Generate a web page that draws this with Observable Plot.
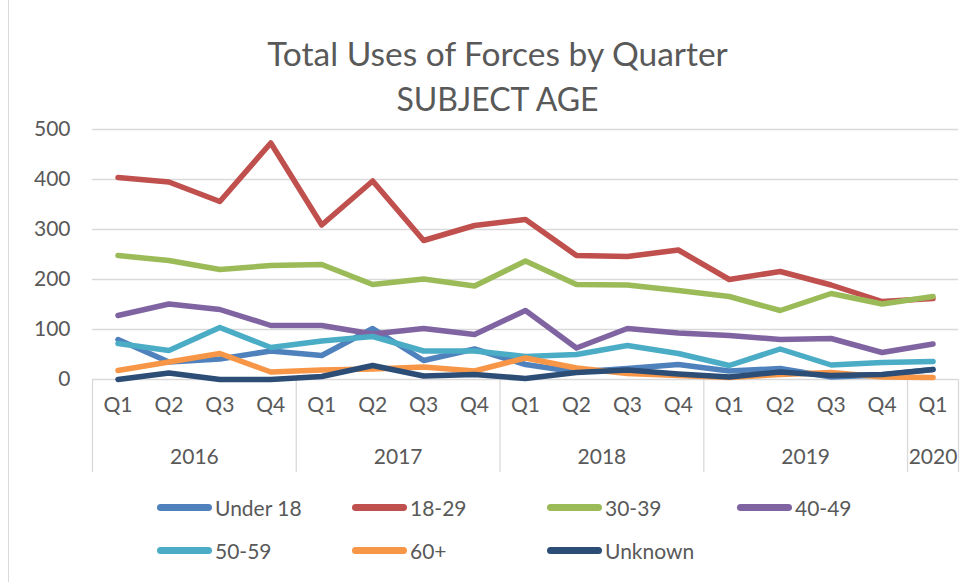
<!DOCTYPE html>
<html>
<head>
<meta charset="utf-8">
<script src="https://cdn.jsdelivr.net/npm/d3@7"></script>
<script src="https://cdn.jsdelivr.net/npm/@observablehq/plot@0.6"></script>
<style>
  html, body { margin: 0; padding: 0; background: #fff; }
  #wrap { position: relative; width: 977px; height: 582px; overflow: hidden; font-family: Lato, "Open Sans", sans-serif; color: #595959; }
  #border { position: absolute; left: 8px; top: 0; width: 1px; height: 582px; background: #d9d9d9; }
  #title { position: absolute; left: 18px; top: 31px; width: 959px; text-align: center; font-size: 32px; line-height: 45px; color: #595959; }
  #title .l1 { font-size: 33.5px; }
  #chart { position: absolute; left: 0; top: 0; }
  #legend { position: absolute; left: 157px; top: 493px; display: grid; grid-template-columns: 195px 195px 190px 195px; row-gap: 15px; }
  .item { display: flex; align-items: center; height: 28px; font-size: 21px; color: #595959; }
  .sw { width: 55px; height: 7px; border-radius: 4px; margin-right: 3px; }
</style>
</head>
<body>
<div id="wrap">
  <div id="border"></div>
  <div id="chart"></div>
  <div id="title"><span class="l1">Total Uses of Forces by Quarter</span><br>SUBJECT AGE</div>
  <div id="legend"></div>
</div>
<script>
const quarters = ["Q1","Q2","Q3","Q4","Q1","Q2","Q3","Q4","Q1","Q2","Q3","Q4","Q1","Q2","Q3","Q4","Q1"];
const years = ["2016","2017","2018","2019","2020"];
const yearQuarterCounts = [4, 4, 4, 4, 1];
const seriesNames = ["Under 18","18-29","30-39","40-49","50-59","60+","Unknown"];
const seriesColors = ["#4f81bd","#c0504d","#9bbb59","#8064a2","#4bacc6","#f79646","#2c4d75"];
const under18 = [80, 35, 41, 57, 48, 102, 38, 61, 30, 15, 22, 30, 17, 22, 5, 9, 20];
const age18_29 = [404, 395, 356, 473, 309, 397, 278, 308, 320, 248, 246, 259, 200, 216, 189, 156, 162];
const age30_39 = [248, 238, 220, 228, 230, 190, 201, 187, 237, 190, 189, 178, 166, 138, 172, 151, 166];
const age40_49 = [128, 151, 140, 108, 108, 91, 102, 90, 138, 63, 102, 93, 88, 80, 82, 54, 71];
const age50_59 = [72, 58, 104, 64, 77, 86, 57, 57, 46, 50, 68, 52, 28, 61, 29, 34, 36];
const age60plus = [18, 35, 52, 15, 19, 21, 25, 17, 43, 23, 12, 8, 4, 10, 14, 5, 4];
const unknown = [0, 13, 0, 0, 6, 28, 7, 10, 2, 14, 19, 11, 5, 15, 8, 10, 20];
const yTicks = [0, 100, 200, 300, 400, 500];

const seriesValues = [under18, age18_29, age30_39, age40_49, age50_59, age60plus, unknown];
const rows = [];
seriesValues.forEach((vals, s) => vals.forEach((v, i) => rows.push({series: seriesNames[s], i, v})));

// year group boundaries & centers (in quarter index units)
const bounds = [-0.5];
const centers = [];
let acc = 0;
yearQuarterCounts.forEach(c => { centers.push(acc + (c - 1) / 2); acc += c; bounds.push(acc - 0.5); });

const txt = "#595959";
const fs = 21;
const plot = Plot.plot({
  width: 977,
  height: 582,
  marginLeft: 92,
  marginRight: 19,
  marginTop: 129,
  marginBottom: 203,
  style: {fontFamily: "Lato, 'Open Sans', sans-serif", color: txt, background: "transparent", overflow: "visible"},
  x: {domain: [-0.5, quarters.length - 0.5]},
  y: {domain: [0, 500]},
  color: {domain: seriesNames, range: seriesColors},
  marks: [
    Plot.gridY(yTicks, {stroke: "#d9d9d9", strokeOpacity: 1, strokeWidth: 1.3}),
    Plot.axisY(yTicks, {tickSize: 0, tickPadding: 22, fontSize: fs, fill: txt, label: null}),
    Plot.axisX(d3.range(quarters.length), {tickSize: 0, tickPadding: 18, fontSize: fs, fill: txt, tickFormat: i => quarters[i], label: null}),
    Plot.axisX(centers, {tickSize: 0, tickPadding: 70, fontSize: fs, fill: txt, tickFormat: (d, k) => years[k], label: null}),
    Plot.axisX(bounds, {tickSize: 93, stroke: "#d9d9d9", strokeWidth: 1.3, tickFormat: () => "", label: null}),
    Plot.lineY(rows, {x: "i", y: "v", z: "series", stroke: "series", strokeWidth: 5.5, strokeLinejoin: "round", strokeLinecap: "round"})
  ]
});
document.getElementById("chart").appendChild(plot);

const legend = document.getElementById("legend");
seriesNames.forEach((n, k) => {
  const it = document.createElement("div");
  it.className = "item";
  const sw = document.createElement("span");
  sw.className = "sw";
  sw.style.background = seriesColors[k];
  it.appendChild(sw);
  it.appendChild(document.createTextNode(n));
  legend.appendChild(it);
});
</script>
</body>
</html>
